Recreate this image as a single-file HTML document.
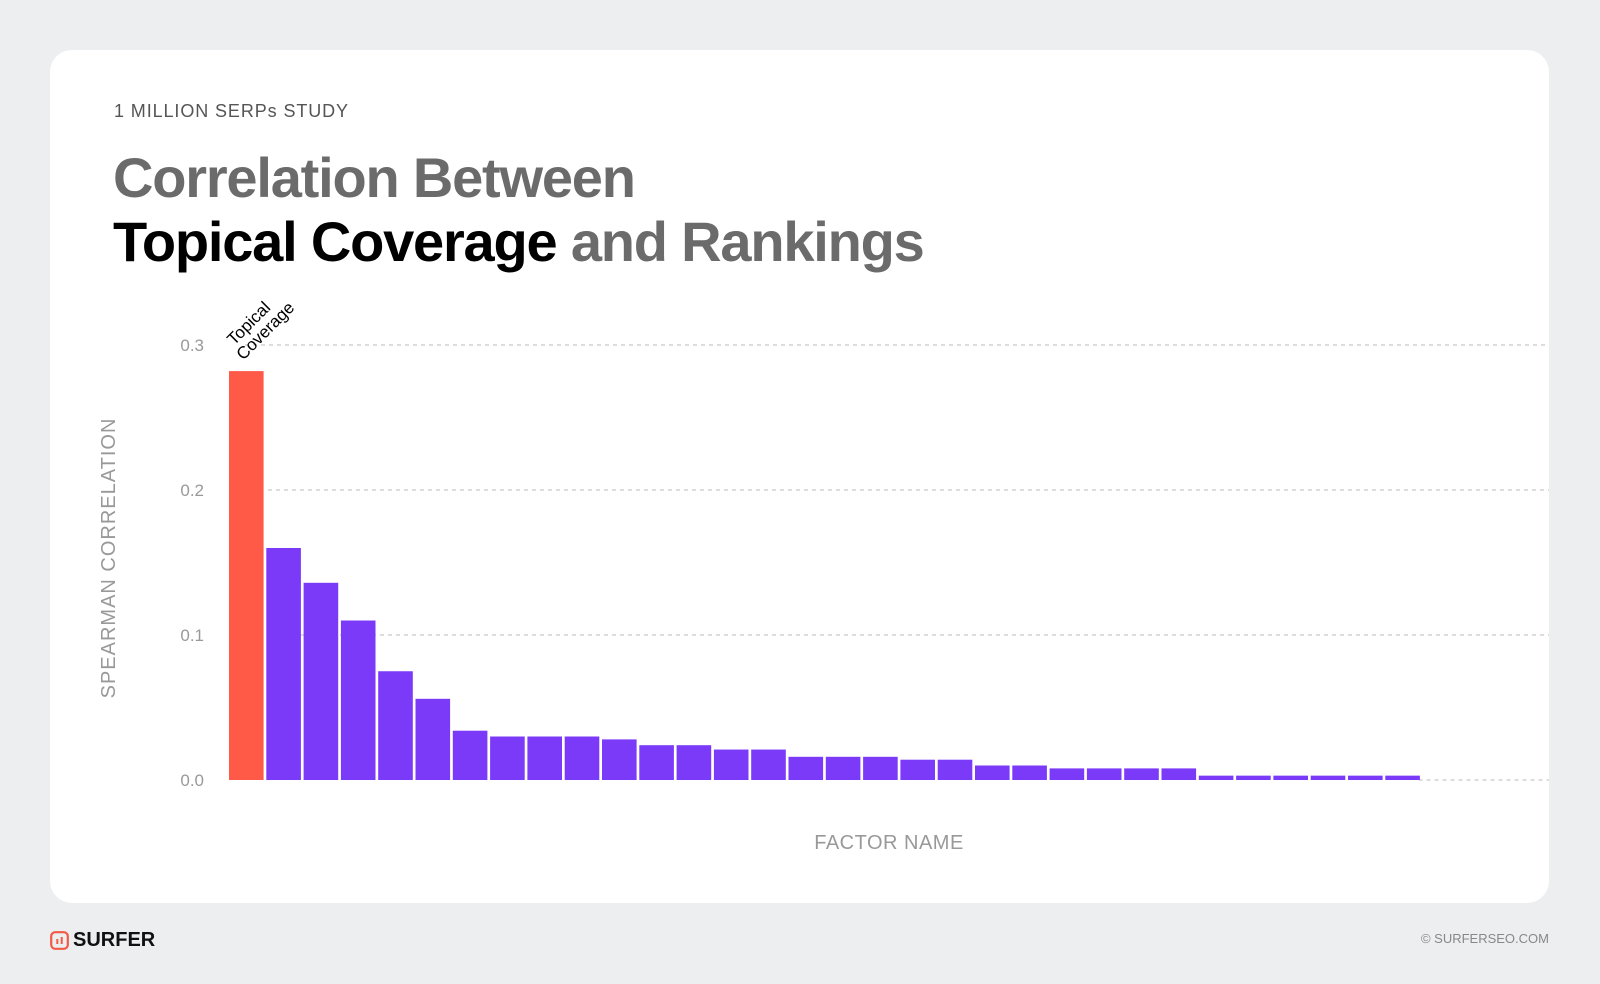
<!DOCTYPE html>
<html><head><meta charset="utf-8">
<style>
html,body{margin:0;padding:0;}
body{width:1600px;height:984px;background:#eceef0;position:relative;overflow:hidden;font-family:"Liberation Sans",sans-serif;}
#card{position:absolute;left:50px;top:50px;width:1499px;height:853px;background:#fff;border-radius:22px;}
.abs{position:absolute;white-space:nowrap;}
</style></head><body>
<div id="card"></div>
<div class="abs" style="left:114px;top:101px;font-size:18px;color:#555;letter-spacing:0.9px;">1 MILLION SERPs STUDY</div>
<div class="abs" style="left:113px;top:146px;font-size:56px;line-height:64px;color:#6b6b6b;letter-spacing:-1.2px;font-weight:bold;">Correlation Between<br><span style="color:#000">Topical Coverage</span> and Rankings</div>
<svg id="chart" width="1600" height="984" style="position:absolute;left:0;top:0"></svg>
<div class="abs" style="left:50px;top:929px;display:flex;align-items:center;">
<svg width="19" height="19" viewBox="0 0 19 19"><rect x="1.2" y="1.2" width="16.6" height="16.6" rx="4" fill="none" stroke="#f25a45" stroke-width="2.2"/><rect x="6.3" y="8" width="2" height="5" fill="#f25a45"/><rect x="10.7" y="6" width="2" height="7" fill="#f25a45"/></svg>
<span style="font-size:20px;font-weight:bold;color:#111;margin-left:4px;">SURFER</span></div>
<div class="abs" style="right:51px;top:931px;font-size:13px;color:#888;">© SURFERSEO.COM</div>
<script>
const categories=["Topical Coverage","F2","F3","F4","F5","F6","F7","F8","F9","F10","F11","F12","F13","F14","F15","F16","F17","F18","F19","F20","F21","F22","F23","F24","F25","F26","F27","F28","F29","F30","F31","F32"];
const values=[0.282,0.160,0.136,0.110,0.075,0.056,0.034,0.030,0.030,0.030,0.028,0.024,0.024,0.021,0.021,0.016,0.016,0.016,0.014,0.014,0.010,0.010,0.008,0.008,0.008,0.008,0.003,0.003,0.003,0.003,0.003,0.003];
const yTicks=[0,0.1,0.2,0.3];
const yTickLabels=["0.0","0.1","0.2","0.3"];
const NS="http://www.w3.org/2000/svg";
const svg=document.getElementById('chart');
const base=780, unit=1450, x0=229, pitch=37.3, bw=34.6;
function y(v){return base-v*unit;}
function x(i){return x0+i*pitch;}
function mk(t,a){const e=document.createElementNS(NS,t);for(const k in a)e.setAttribute(k,a[k]);svg.appendChild(e);return e;}
yTicks.forEach((t,i)=>{
  const gx=(i===0)?x(categories.length)-4:(i===3?245:268);
  const l=mk('line',{x1:gx,x2:1549,y1:y(t),y2:y(t),stroke:'#bbb','stroke-width':1,'stroke-dasharray':'4,4'});
  
  
  const tx=mk('text',{x:204,y:y(t)+6,'text-anchor':'end','font-size':17,fill:'#999','font-family':'Liberation Sans, sans-serif'});
  tx.textContent=yTickLabels[i];
  
  
});
values.forEach((v,i)=>{
  const r=mk('rect',{x:x(i),y:y(v),width:bw,height:base-y(v),fill:i===0?'#ff5a48':'#7b39f8'});
  
  
});
const lbl=mk('text',{transform:'translate(234,346) rotate(-45)','font-size':17,fill:'#000','font-family':'Liberation Sans, sans-serif'});


const t1=document.createElementNS(NS,'tspan');t1.setAttribute('x',0);t1.setAttribute('y',0);t1.textContent='Topical';lbl.appendChild(t1);
const t2=document.createElementNS(NS,'tspan');t2.setAttribute('x',-4);t2.setAttribute('y',17);t2.textContent='Coverage';lbl.appendChild(t2);
const xt=mk('text',{x:889,y:849,'text-anchor':'middle','font-size':20,fill:'#999','font-family':'Liberation Sans, sans-serif','letter-spacing':'0.5'});
xt.textContent='FACTOR NAME';


const yt=mk('text',{transform:'translate(115,558) rotate(-90)','text-anchor':'middle','font-size':20,fill:'#999','font-family':'Liberation Sans, sans-serif','letter-spacing':'1'});
yt.textContent='SPEARMAN CORRELATION';


</script>
</body></html>
